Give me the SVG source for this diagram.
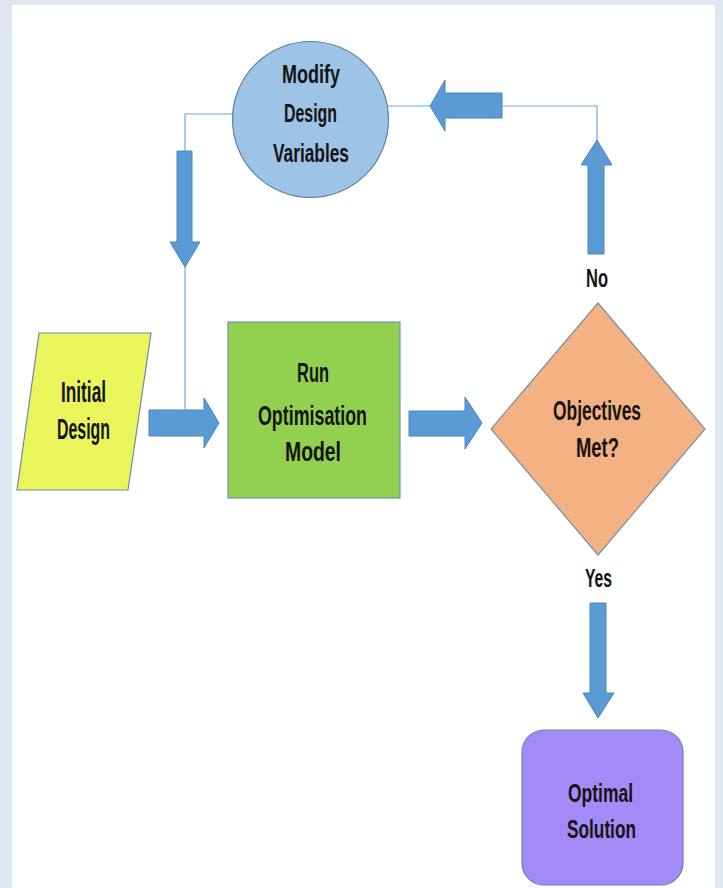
<svg xmlns="http://www.w3.org/2000/svg" width="723" height="888" viewBox="0 0 723 888">
  <style>
    .lbl { font-family: "Liberation Sans", Arial, sans-serif; font-weight: bold; fill: #141414; text-anchor: middle; }
    .arrow { fill: #5b9bd5; stroke: #4a86bf; stroke-width: 1; }
    .wire { fill: none; stroke: #6fa6d8; stroke-width: 1.2; }
    .shape { stroke-width: 1.2; }
  </style>

  <!-- page background and panel -->
  <rect x="0" y="0" width="723" height="888" fill="#dfe8f1"/>
  <rect x="11" y="4" width="705" height="890" fill="#ffffff" stroke="#cfd9e3" stroke-width="1"/>

  <!-- connectors -->
  <g id="connectors">
    <!-- feedback path lines -->
    <polyline class="wire" points="388,106 597,106 597,141"/>
    <polyline class="wire" points="233,114 185,114 185,410"/>

    <!-- Initial Design -> Run Optimisation Model -->
    <polygon class="arrow" points="149,410 204,410 204,398 219,423 204,448 204,436 149,436"/>
    <!-- Run Optimisation Model -> Objectives Met? -->
    <polygon class="arrow" points="409,411 465,411 465,397 482,423 465,449 465,436 409,436"/>
    <!-- No: up towards feedback line -->
    <polygon class="arrow" points="588,254 588,165 581,165 597,140 612,165 604,165 604,254"/>
    <!-- feedback: leftwards to Modify Design Variables -->
    <polygon class="arrow" points="502,93 445,93 445,80 430,106 445,131 445,118 502,118"/>
    <!-- Modify Design Variables: downwards to input line -->
    <polygon class="arrow" points="177,151 192,151 192,242 200,242 185,267 170,242 177,242"/>
    <!-- Yes: down to Optimal Solution -->
    <polygon class="arrow" points="590,603 606,603 606,693 614,693 598,718 583,693 590,693"/>

    <text class="lbl" x="597" y="287" font-size="26" textLength="22" lengthAdjust="spacingAndGlyphs">No</text>
    <text class="lbl" x="598.5" y="587" font-size="26" textLength="27" lengthAdjust="spacingAndGlyphs">Yes</text>
  </g>

  <!-- Modify Design Variables -->
  <g id="modify-design-variables">
    <circle class="shape" cx="310.5" cy="119.5" r="78" fill="#9dc3e6" stroke="#5a82a8"/>
    <text class="lbl" x="311" y="83" font-size="25" textLength="58" lengthAdjust="spacingAndGlyphs">Modify</text>
    <text class="lbl" x="310.5" y="122" font-size="25" textLength="53" lengthAdjust="spacingAndGlyphs">Design</text>
    <text class="lbl" x="311" y="162" font-size="25" textLength="76" lengthAdjust="spacingAndGlyphs">Variables</text>
  </g>

  <!-- Initial Design -->
  <g id="initial-design">
    <polygon class="shape" points="39,333 151,333 128,490 17,490" fill="#eaf55c" stroke="#6b8aa8"/>
    <text class="lbl" x="83.5" y="402" font-size="29" textLength="45" lengthAdjust="spacingAndGlyphs">Initial</text>
    <text class="lbl" x="83.5" y="439" font-size="29" textLength="53" lengthAdjust="spacingAndGlyphs">Design</text>
  </g>

  <!-- Run Optimisation Model -->
  <g id="run-optimisation-model">
    <rect class="shape" x="228" y="322" width="172" height="176" fill="#92d050" stroke="#6f93b0"/>
    <text class="lbl" x="313" y="382" font-size="27" textLength="32" lengthAdjust="spacingAndGlyphs">Run</text>
    <text class="lbl" x="312.5" y="425" font-size="27" textLength="109" lengthAdjust="spacingAndGlyphs">Optimisation</text>
    <text class="lbl" x="313" y="461" font-size="27" textLength="56" lengthAdjust="spacingAndGlyphs">Model</text>
  </g>

  <!-- Objectives Met? -->
  <g id="objectives-met">
    <polygon class="shape" points="598,303 705,429 598,555 491,429" fill="#f4b183" stroke="#7f8f9f"/>
    <text class="lbl" x="597" y="420" font-size="27" textLength="88" lengthAdjust="spacingAndGlyphs">Objectives</text>
    <text class="lbl" x="597.5" y="457" font-size="27" textLength="43" lengthAdjust="spacingAndGlyphs">Met?</text>
  </g>

  <!-- Optimal Solution -->
  <g id="optimal-solution">
    <rect class="shape" x="522" y="730" width="161" height="155" rx="22" ry="22" fill="#a28bf7" stroke="#6a84b5"/>
    <text class="lbl" x="600.5" y="802" font-size="26" textLength="65" lengthAdjust="spacingAndGlyphs">Optimal</text>
    <text class="lbl" x="601.5" y="838" font-size="26" textLength="69" lengthAdjust="spacingAndGlyphs">Solution</text>
  </g>
</svg>
